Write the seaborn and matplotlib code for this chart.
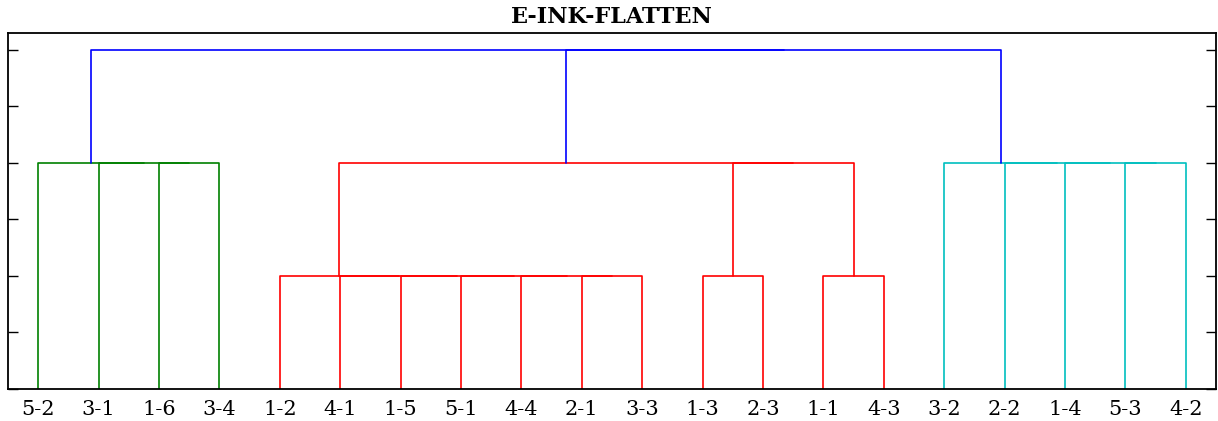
import numpy as np
import pandas as pd
import seaborn as sns
import matplotlib
matplotlib.use("Agg")
import matplotlib.pyplot as plt

# Leaf labels in display order
leaf_labels = ["5-2", "3-1", "1-6", "3-4", "1-2", "4-1", "1-5", "5-1", "4-4", "2-1",
               "3-3", "1-3", "2-3", "1-1", "4-3", "3-2", "2-2", "1-4", "5-3", "4-2"]

# Linkage: node ids 0..19 are leaves, each merge creates node 20, 21, ...
merge_left = [2, 1, 0,
              9, 8, 7, 6, 5, 4, 11, 13, 29, 28,
              18, 17, 16, 15,
              32, 22]
merge_right = [3, 20, 21,
               10, 23, 24, 25, 26, 27, 12, 14, 30, 31,
               19, 33, 34, 35,
               36, 37]
merge_height = [2.0, 2.0, 2.0,
                1.0, 1.0, 1.0, 1.0, 1.0, 1.0, 1.0, 1.0, 2.0, 2.0,
                2.0, 2.0, 2.0, 2.0,
                3.0, 3.0]
merge_color = ["g", "g", "g",
               "r", "r", "r", "r", "r", "r", "r", "r", "r", "r",
               "c", "c", "c", "c",
               "b", "b"]

sns.set_style("ticks")
plt.rcParams["font.family"] = ["DejaVu Serif"]
plt.rcParams["text.color"] = "black"
plt.rcParams["xtick.color"] = "black"
plt.rcParams["ytick.color"] = "black"


def dendrogram_links(n_leaves):
    """Build U-shaped link coordinates the same way scipy's dendrogram does."""
    node_x = {i: 5.0 + 10.0 * i for i in range(n_leaves)}
    node_h = {i: 0.0 for i in range(n_leaves)}
    rows = []
    for k, (a, b, h, c) in enumerate(zip(merge_left, merge_right, merge_height, merge_color)):
        xs = [node_x[a], node_x[a], node_x[b], node_x[b]]
        ys = [node_h[a], h, h, node_h[b]]
        for j, (x, y) in enumerate(zip(xs, ys)):
            rows.append({"link": k, "order": j, "x": x, "y": y, "color": c})
        new_id = n_leaves + k
        node_x[new_id] = (node_x[a] + node_x[b]) / 2
        node_h[new_id] = h
    return pd.DataFrame(rows)


links = dendrogram_links(len(leaf_labels))

fig = plt.figure(figsize=(12.18, 4.21), dpi=100)
ax = fig.add_axes([8 / 1218, 1 - 389 / 421, 1208 / 1218, 356 / 421])

palette = {"g": "g", "r": "r", "c": "c", "b": "b"}
sns.lineplot(data=links, x="x", y="y", units="link", hue="color", palette=palette,
             estimator=None, sort=False, legend=False, linewidth=1.2, ax=ax)

ax.set_xlim(0, 10 * len(leaf_labels))
ax.set_ylim(0, max(merge_height) * 1.05)
ax.set_xticks(5 + 10 * np.arange(len(leaf_labels)))
ax.set_xticklabels(leaf_labels, fontsize=15, color="black")
ax.tick_params(axis="x", length=0, pad=8)
ax.set_yticks(np.arange(0, 3.01, 0.5))
ax.set_yticklabels([])
ax.tick_params(axis="y", direction="in", length=7, width=1, left=True, right=True, color="black")
ax.set_xlabel("")
ax.set_ylabel("")
for side in ["top", "bottom", "left", "right"]:
    ax.spines[side].set_visible(True)
    ax.spines[side].set_color("black")
    ax.spines[side].set_linewidth(1.3)

ax.set_title("E-INK-FLATTEN", fontsize=16, fontweight="bold", color="black", pad=7)

fig.savefig("out.png", dpi=100)
